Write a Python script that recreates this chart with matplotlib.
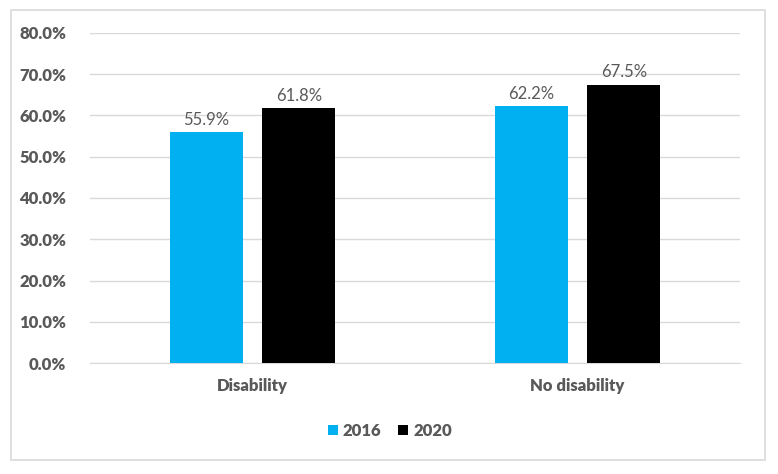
import matplotlib.pyplot as plt
from matplotlib.patches import Rectangle
from matplotlib.ticker import FuncFormatter

categories = ['Disability', 'No disability']
years = ['2016', '2020']
values_2016 = [0.559, 0.622]
values_2020 = [0.618, 0.675]

colors = ['#00b0f0', '#000000']
text_gray = '#595959'

plt.rcParams['font.family'] = ['Lato', 'DejaVu Sans']

fig = plt.figure(figsize=(7.78, 4.74), dpi=100)
ax = fig.add_axes([90 / 778, 1 - 363 / 474, 650 / 778, 330 / 474])

# outer chart border
fig.patches.append(Rectangle((11 / 778, 1 - 460 / 474), 754 / 778, 450 / 474,
                             transform=fig.transFigure, fill=False,
                             edgecolor='#d9d9d9', linewidth=1.2))

width = 0.225
offset = 0.1425
x = range(len(categories))
for vals, off, color, label in [(values_2016, -offset, colors[0], years[0]),
                                (values_2020, offset, colors[1], years[1])]:
    pos = [i + off for i in x]
    ax.bar(pos, vals, width=width, color=color, label=label, zorder=3)
    for p, v in zip(pos, vals):
        ax.text(p, v + 0.011, f'{v * 100:.1f}%', ha='center', va='bottom',
                fontsize=12, color=text_gray)

ax.set_xlim(-0.5, 1.5)
ax.set_ylim(0, 0.8)
ax.set_yticks([i / 10 for i in range(9)])
ax.yaxis.set_major_formatter(FuncFormatter(lambda v, _: f'{v * 100:.1f}%'))
ax.set_xticks(list(x))
ax.set_xticklabels(categories)

ax.grid(axis='y', color='#d9d9d9', linewidth=1, zorder=0)
for side in ['top', 'right', 'left']:
    ax.spines[side].set_visible(False)
ax.spines['bottom'].set_color('#d9d9d9')
ax.tick_params(axis='both', length=0, colors=text_gray, labelsize=12)
ax.tick_params(axis='y', pad=17)
ax.tick_params(axis='x', pad=11)
for lbl in ax.get_xticklabels() + ax.get_yticklabels():
    lbl.set_fontweight('heavy')

leg = fig.legend(loc='center', bbox_to_anchor=(390 / 778, 1 - 431 / 474), ncol=2,
                 frameon=False, handlelength=0.6, handleheight=0.6,
                 handletextpad=0.3, columnspacing=1.0,
                 prop={'size': 12, 'weight': 'heavy'})
for t in leg.get_texts():
    t.set_color(text_gray)

fig.savefig('out.png', dpi=100)
